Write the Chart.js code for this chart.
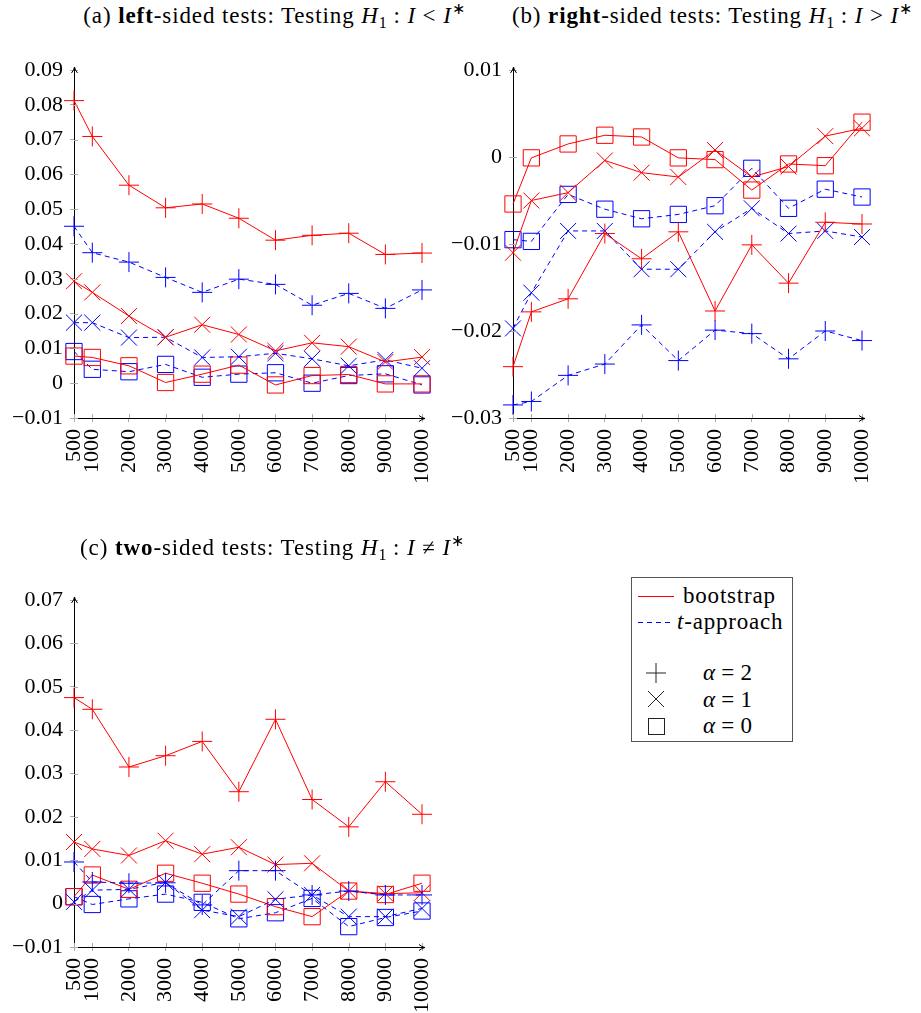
<!DOCTYPE html>
<html>
<head>
<meta charset="utf-8">
<script src="https://cdn.jsdelivr.net/npm/chart.js@4/dist/chart.umd.min.js"></script>
<style>
  html, body { margin: 0; padding: 0; background: #fff; }
  body { width: 921px; height: 1013px; position: relative; overflow: hidden;
         font-family: 'Liberation Serif', 'Times New Roman', serif; color: #000; }
  canvas { position: absolute; }
  .title { position: absolute; font-size: 23px; letter-spacing: 0.9px; line-height: 26px; white-space: nowrap; transform: translateX(-50%); }
  .title sub { font-size: 70%; vertical-align: -0.3em; line-height: 0; letter-spacing: 0; }
  .title sup { font-size: 70%; vertical-align: 0.55em; line-height: 0; letter-spacing: 0; }
  #legend { position: absolute; left: 631px; top: 577px; width: 162px; height: 165px;
            border: 1px solid #555; box-sizing: border-box; background: #fff; }
  #legend .item { position: absolute; font-size: 23px; letter-spacing: 0.8px; line-height: 24px; white-space: nowrap; }
  #legend svg { position: absolute; overflow: visible; }
</style>
</head>
<body>

<canvas id="panelA" width="440" height="460" style="left:0px; top:50px;"></canvas>
<canvas id="panelB" width="481" height="460" style="left:440px; top:50px;"></canvas>
<canvas id="panelC" width="450" height="453" style="left:0px; top:560px;"></canvas>

<div class="title" style="left:274px; top:3px;">(a) <b>left</b>-sided tests: Testing <i>H</i><sub>1</sub> : <i>I</i> &lt; <i>I</i><sup>∗</sup></div>
<div class="title" style="left:712px; top:3px;">(b) <b>right</b>-sided tests: Testing <i>H</i><sub>1</sub> : <i>I</i> &gt; <i>I</i><sup>∗</sup></div>
<div class="title" style="left:272px; top:535px;">(c) <b>two</b>-sided tests: Testing <i>H</i><sub>1</sub> : <i>I</i> ≠ <i>I</i><sup>∗</sup></div>

<div id="legend">
  <svg style="left:6px; top:18px;" width="36" height="1"><line x1="0" y1="0.5" x2="36" y2="0.5" stroke="#ff0000" stroke-width="1"/></svg>
  <span class="item" style="left:51px; top:6px;">bootstrap</span>
  <svg style="left:6px; top:44px;" width="36" height="1"><line x1="0" y1="0.5" x2="36" y2="0.5" stroke="#0000ff" stroke-width="1" stroke-dasharray="5,4"/></svg>
  <span class="item" style="left:45px; top:32px;"><i>t</i>-approach</span>

  <svg style="left:14px; top:85px;" width="20" height="20"><path d="M10 0 V20 M0 10 H20" stroke="#222" stroke-width="1" fill="none"/></svg>
  <span class="item" style="left:71px; top:83px;"><i>α</i>&#8201;=&#8201;2</span>
  <svg style="left:16px; top:113px;" width="16" height="16"><path d="M0 0 L16 16 M16 0 L0 16" stroke="#222" stroke-width="1" fill="none"/></svg>
  <span class="item" style="left:71px; top:110px;"><i>α</i>&#8201;=&#8201;1</span>
  <svg style="left:16px; top:140px;" width="16" height="16"><rect x="0.5" y="0.5" width="16" height="16" stroke="#222" stroke-width="1" fill="none"/></svg>
  <span class="item" style="left:71px; top:136px;"><i>α</i>&#8201;=&#8201;0</span>
</div>

<script>
// sample sizes on the horizontal axis
const sampleSizes = [500, 1000, 2000, 3000, 4000, 5000, 6000, 7000, 8000, 9000, 10000];

// vertical tick values for each panel
const yTicksLeft  = [-0.01, 0, 0.01, 0.02, 0.03, 0.04, 0.05, 0.06, 0.07, 0.08, 0.09];
const yTicksRight = [-0.03, -0.02, -0.01, 0, 0.01];
const yTicksTwo   = [-0.01, 0, 0.01, 0.02, 0.03, 0.04, 0.05, 0.06, 0.07];

// (a) left-sided tests
const leftBoot2 = [0.0812, 0.0709, 0.0569, 0.0504, 0.0515, 0.0474, 0.0411, 0.0425, 0.0431, 0.0370, 0.0374];
const leftT2    = [0.0451, 0.0375, 0.0348, 0.0304, 0.0261, 0.0299, 0.0284, 0.0224, 0.0258, 0.0215, 0.0268];
const leftBoot1 = [0.0293, 0.0261, 0.0193, 0.0132, 0.0168, 0.0140, 0.0093, 0.0116, 0.0105, 0.0061, 0.0075];
const leftT1    = [0.0174, 0.0174, 0.0131, 0.0132, 0.0074, 0.0076, 0.0086, 0.0070, 0.0050, 0.0067, 0.0043];
const leftBoot0 = [0.0078, 0.0074, 0.0050, 0.0002, 0.0026, 0.0052, -0.0005, 0.0022, 0.0025, -0.0002, -0.0002];
const leftT0    = [0.0091, 0.0040, 0.0033, 0.0054, 0.0017, 0.0026, 0.0030, 0.0000, 0.0022, 0.0027, -0.0005];

// (b) right-sided tests
const rightBoot2 = [-0.0241, -0.0178, -0.0163, -0.0088, -0.0117, -0.0086, -0.0177, -0.0101, -0.0145, -0.0075, -0.0077];
const rightT2    = [-0.0285, -0.0281, -0.0251, -0.0238, -0.0193, -0.0234, -0.0199, -0.0203, -0.0232, -0.0200, -0.0211];
const rightBoot1 = [-0.0110, -0.0050, -0.0041, -0.0004, -0.0018, -0.0023, 0.0008, -0.0023, -0.0011, 0.0024, 0.0033];
const rightT1    = [-0.0197, -0.0156, -0.0085, -0.0085, -0.0129, -0.0129, -0.0086, -0.0059, -0.0088, -0.0085, -0.0092];
const rightBoot0 = [-0.0054, -0.0001, 0.0015, 0.0025, 0.0023, -0.0001, -0.0003, -0.0038, -0.0008, -0.0010, 0.0040];
const rightT0    = [-0.0095, -0.0097, -0.0043, -0.0060, -0.0071, -0.0066, -0.0056, -0.0013, -0.0059, -0.0037, -0.0046];

// (c) two-sided tests
const twoBoot2 = [0.0475, 0.0448, 0.0315, 0.0341, 0.0374, 0.0258, 0.0425, 0.0240, 0.0177, 0.0281, 0.0206];
const twoT2    = [0.0096, 0.0050, 0.0047, 0.0048, -0.0003, 0.0076, 0.0076, 0.0020, 0.0029, 0.0020, 0.0020];
const twoBoot1 = [0.0142, 0.0126, 0.0111, 0.0145, 0.0114, 0.0130, 0.0090, 0.0093, 0.0029, 0.0023, 0.0025];
const twoT1    = [0.0004, 0.0031, 0.0033, 0.0049, -0.0015, -0.0030, 0.0010, 0.0020, -0.0030, -0.0030, -0.0011];
const twoBoot0 = [0.0016, 0.0066, 0.0033, 0.0070, 0.0047, 0.0022, -0.0007, -0.0030, 0.0029, 0.0021, 0.0047];
const twoT0    = [0.0016, -0.0002, 0.0011, 0.0022, 0.0003, -0.0035, -0.0021, 0.0012, -0.0053, -0.0032, -0.0017];

const RED = '#ff0000';
const BLUE = '#0000ff';
const Y_AXIS_W = 70, X_AXIS_H = 66;

Chart.defaults.font.family = "'Liberation Serif', 'Times New Roman', serif";
Chart.defaults.font.size = 22;
Chart.defaults.color = '#000';

function fmtTick(v) {
  if (Math.abs(v) < 1e-9) return '0';
  return (v < 0 ? '\u2212' : '') + Math.abs(v).toFixed(2);
}

// marker shapes per alpha level
const MARK = {
  2: { style: 'cross', radius: 10 },
  1: { style: 'crossRot', radius: 11.3 },
  0: { style: 'rect', radius: 11.5 }
};

function series(values, color, alpha, dashed) {
  const m = MARK[alpha];
  return {
    data: sampleSizes.map((n, i) => ({ x: n, y: values[i] })),
    borderColor: color,
    backgroundColor: 'transparent',
    borderWidth: 1,
    borderDash: dashed ? [5, 4] : [],
    tension: 0,
    fill: false,
    clip: false,
    pointStyle: m.style,
    pointRadius: m.radius,
    pointBorderColor: color,
    pointBackgroundColor: 'transparent',
    pointBorderWidth: 1
  };
}

// opaque white backdrop, axis arrows and the inner half of the tick marks
const axisDecor = {
  id: 'axisDecor',
  beforeDraw(chart) {
    const { ctx, width, height } = chart;
    ctx.save();
    ctx.fillStyle = '#ffffff';
    ctx.fillRect(0, 0, width, height);
    ctx.restore();
  },
  afterDraw(chart) {
    const { ctx, chartArea: a, scales: { x, y } } = chart;
    ctx.save();
    ctx.setLineDash([]);
    ctx.strokeStyle = '#aaa';
    ctx.lineWidth = 1;
    ctx.beginPath();
    x.ticks.forEach(t => {
      const px = Math.round(x.getPixelForValue(t.value)) + 0.5;
      ctx.moveTo(px, a.bottom); ctx.lineTo(px, a.bottom - 4);
    });
    y.ticks.forEach(t => {
      const py = Math.round(y.getPixelForValue(t.value)) + 0.5;
      ctx.moveTo(a.left, py); ctx.lineTo(a.left + 4, py);
    });
    ctx.stroke();

    ctx.strokeStyle = '#000';
    // right-pointing arrow at the end of the horizontal axis
    const bx = a.right + 3, by = Math.round(a.bottom) + 0.5;
    ctx.beginPath();
    ctx.moveTo(a.right - 4, by); ctx.lineTo(bx, by); ctx.stroke();
    ctx.beginPath();
    ctx.moveTo(bx - 6, by - 3); ctx.quadraticCurveTo(bx - 3, by - 0.5, bx, by);
    ctx.quadraticCurveTo(bx - 3, by + 0.5, bx - 6, by + 3);
    ctx.stroke();
    // upward arrow at the top of the vertical axis
    const lx = Math.round(a.left) + 0.5, ty = a.top - 3;
    ctx.beginPath();
    ctx.moveTo(lx, a.top + 4); ctx.lineTo(lx, ty); ctx.stroke();
    ctx.beginPath();
    ctx.moveTo(lx - 3, ty + 6); ctx.quadraticCurveTo(lx - 0.5, ty + 3, lx, ty);
    ctx.quadraticCurveTo(lx + 0.5, ty + 3, lx + 3, ty + 6);
    ctx.stroke();
    ctx.restore();
  }
};

// area: plot rectangle in canvas coordinates
function makePanel(canvasId, area, yMin, yMax, yTicks, datasets) {
  const cv = document.getElementById(canvasId);
  new Chart(cv, {
    type: 'line',
    data: { datasets },
    plugins: [axisDecor],
    options: {
      responsive: false,
      animation: false,
      devicePixelRatio: 1,
      events: [],
      layout: {
        padding: {
          left: area.left - Y_AXIS_W,
          right: cv.width - area.right,
          top: area.top,
          bottom: cv.height - area.bottom - X_AXIS_H
        }
      },
      plugins: { legend: { display: false }, tooltip: { enabled: false }, title: { display: false } },
      scales: {
        x: {
          type: 'linear',
          min: sampleSizes[0],
          max: sampleSizes[sampleSizes.length - 1],
          afterBuildTicks: s => { s.ticks = sampleSizes.map(v => ({ value: v })); },
          afterFit: s => { s.height = X_AXIS_H; s.paddingLeft = 0; s.paddingRight = 0; },
          ticks: {
            autoSkip: false, minRotation: 90, maxRotation: 90, padding: 7,
            callback: v => String(v)
          },
          grid: { display: true, drawOnChartArea: false, drawTicks: true, tickLength: 4, tickColor: '#aaa' },
          border: { display: true, color: '#000', width: 1 }
        },
        y: {
          type: 'linear',
          min: yMin,
          max: yMax,
          afterBuildTicks: s => { s.ticks = yTicks.map(v => ({ value: v })); },
          afterFit: s => { s.width = Y_AXIS_W; s.paddingTop = 0; s.paddingBottom = 0; },
          ticks: { autoSkip: false, padding: 7, callback: v => fmtTick(v) },
          grid: { display: true, drawOnChartArea: false, drawTicks: true, tickLength: 4, tickColor: '#aaa' },
          border: { display: true, color: '#000', width: 1 }
        }
      }
    }
  });
}

makePanel('panelA', { left: 74, right: 422, top: 20, bottom: 368 }, -0.01, 0.09, yTicksLeft, [
  series(leftBoot2, RED, 2, false), series(leftT2, BLUE, 2, true),
  series(leftBoot1, RED, 1, false), series(leftT1, BLUE, 1, true),
  series(leftBoot0, RED, 0, false), series(leftT0, BLUE, 0, true)
]);

makePanel('panelB', { left: 73, right: 422, top: 20, bottom: 368 }, -0.03, 0.01, yTicksRight, [
  series(rightBoot2, RED, 2, false), series(rightT2, BLUE, 2, true),
  series(rightBoot1, RED, 1, false), series(rightT1, BLUE, 1, true),
  series(rightBoot0, RED, 0, false), series(rightT0, BLUE, 0, true)
]);

makePanel('panelC', { left: 74, right: 422, top: 40, bottom: 387 }, -0.01, 0.07, yTicksTwo, [
  series(twoBoot2, RED, 2, false), series(twoT2, BLUE, 2, true),
  series(twoBoot1, RED, 1, false), series(twoT1, BLUE, 1, true),
  series(twoBoot0, RED, 0, false), series(twoT0, BLUE, 0, true)
]);
</script>
</body>
</html>
